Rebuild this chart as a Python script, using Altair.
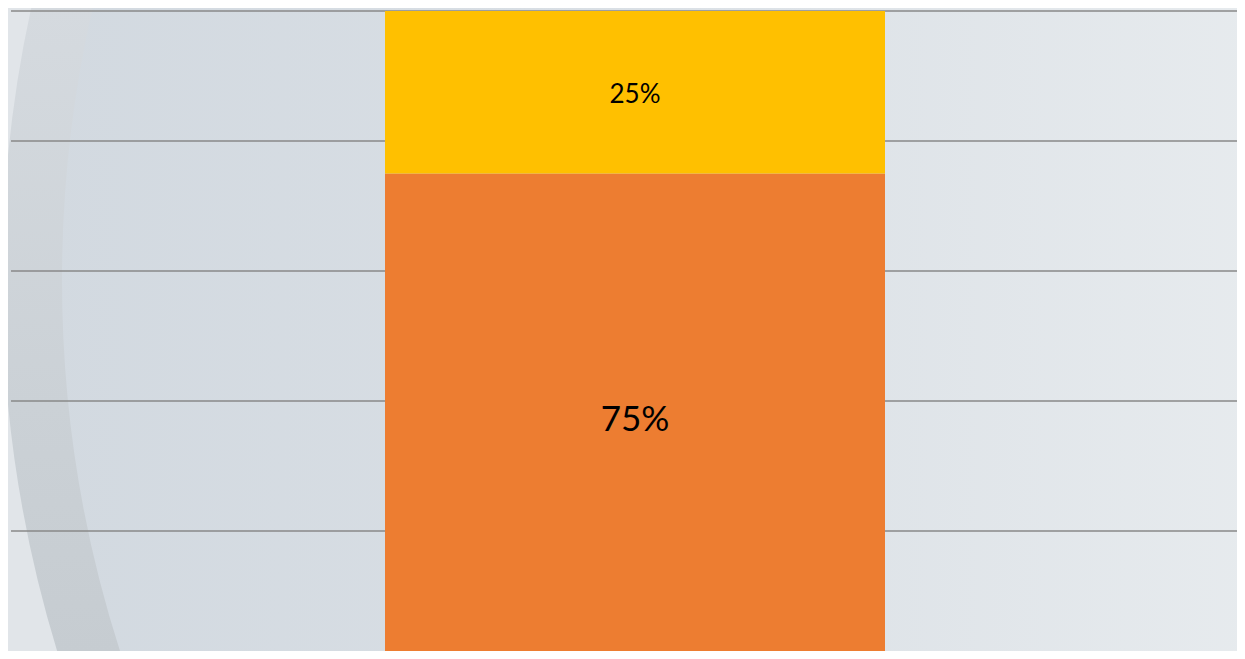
import altair as alt
import pandas as pd

# ---- data ----
categories = ["Total"]
series = ["Series 1", "Series 2"]
values = [75, 25]
labels = ["75%", "25%"]
colors = ["#ED7D31", "#FFC000"]
label_sizes = [35, 26]
tick_values = [0, 20, 40, 60, 80, 100]

W, H = 1226, 640
PX_PER_UNIT = 6.5  # 130 px per 20 %
y_min = 100 - H / PX_PER_UNIT

df = pd.DataFrame({
    "cat": [categories[0]] * len(series),
    "series": series,
    "value": values,
    "label": labels,
    "order": list(range(len(series))),
})
grid_df = pd.DataFrame({"tick": tick_values})
deco_df = pd.DataFrame({"d": [0]})

# decorative background circle
circle = alt.Chart(deco_df).mark_point(
    shape="circle",
    filled=True,
    size=2488 * 2488,
    fill=alt.Gradient(
        gradient="linear",
        x1=0, x2=1, y1=0, y2=0,
        stops=[
            alt.GradientStop(offset=0.0, color="#D2D9E0"),
            alt.GradientStop(offset=0.2, color="#D8DEE4"),
            alt.GradientStop(offset=0.5, color="#E7EBEE"),
            alt.GradientStop(offset=1.0, color="#EEF0F2"),
        ],
    ),
    stroke=alt.Gradient(
        gradient="linear",
        x1=0, x2=0, y1=0, y2=1,
        stops=[
            alt.GradientStop(offset=0.0, color="#D8DDE2"),
            alt.GradientStop(offset=0.39, color="#D5DADF"),
            alt.GradientStop(offset=0.55, color="#CBD1D6"),
            alt.GradientStop(offset=0.65, color="#C6CCD1"),
            alt.GradientStop(offset=1.0, color="#C6CCD1"),
        ],
    ),
    strokeWidth=60,
    opacity=1,
    clip=False,
).encode(x=alt.value(1265), y=alt.value(269))

yscale = alt.Scale(domain=[y_min, 100], nice=False, zero=False)

grid = alt.Chart(grid_df).mark_rule(color="#898989", strokeWidth=1.4, clip=False).encode(
    y=alt.Y("tick:Q", scale=yscale, axis=None),
    x=alt.value(0),
    x2=alt.value(W + 20),
)

base = alt.Chart(df).transform_stack(
    stack="value", groupby=["cat"], as_=["v0", "v1"], sort=[alt.SortField("order", "ascending")]
).transform_calculate(mid="(datum.v0 + datum.v1) / 2")

xenc = alt.X(
    "cat:N",
    axis=None,
    scale=alt.Scale(paddingInner=0, paddingOuter=(W / 500 - 1) / 2, align=374 / (W - 500)),
)

bars = base.mark_bar(clip=False).encode(
    x=xenc,
    y=alt.Y("v0:Q", scale=yscale, axis=None),
    y2="v1:Q",
    color=alt.Color("series:N", scale=alt.Scale(domain=series, range=colors), legend=None),
)

text = base.mark_text(font="Lato", color="#000000", baseline="middle", align="center", dy=3).encode(
    x=xenc,
    y=alt.Y("mid:Q", scale=yscale, axis=None),
    text="label:N",
    size=alt.Size("series:N", scale=alt.Scale(domain=series, range=label_sizes), legend=None),
)

chart = alt.layer(circle, grid, bars, text).properties(
    width=W,
    height=H,
    background="#E1E5E9",
    padding={"left": 3, "top": 3, "right": 0, "bottom": 0},
    autosize=alt.AutoSizeParams(type="none"),
).configure_view(stroke=None)

chart.save("out.html", embed_options={"renderer": "svg", "actions": False})
